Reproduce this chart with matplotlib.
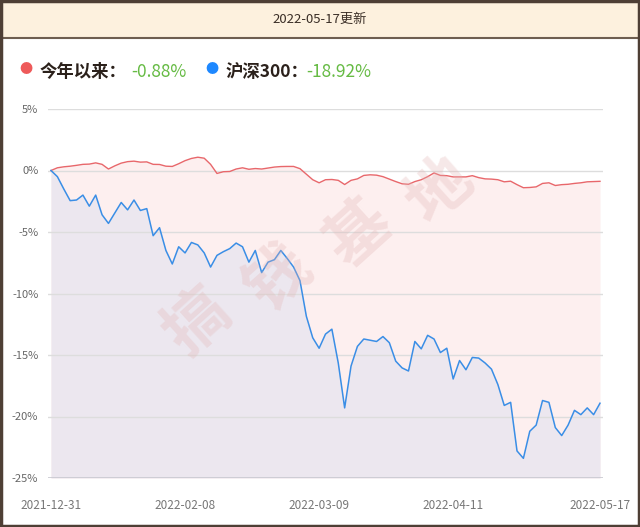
import matplotlib
matplotlib.use('Agg')
import matplotlib.pyplot as plt
from matplotlib.patches import Rectangle
from matplotlib.lines import Line2D

plt.rcParams['font.family'] = ['Noto Sans CJK SC', 'DejaVu Sans']

# data (cumulative return, %)
fund = [0, 0.22, 0.3, 0.35, 0.42, 0.5, 0.52, 0.62, 0.5, 0.12,
        0.38, 0.6, 0.72, 0.76, 0.68, 0.7, 0.5, 0.49, 0.35, 0.33,
        0.55, 0.8, 0.98, 1.08, 1.0, 0.5, -0.24, -0.1, -0.08, 0.12,
        0.22, 0.1, 0.16, 0.12, 0.2, 0.28, 0.32, 0.33, 0.33, 0.15,
        -0.3, -0.75, -1.0, -0.75, -0.73, -0.8, -1.14, -0.8, -0.68, -0.4,
        -0.35, -0.38, -0.5, -0.7, -0.9, -1.08, -1.12, -0.9, -0.75, -0.5,
        -0.2, -0.4, -0.42, -0.52, -0.52, -0.52, -0.42, -0.58, -0.68, -0.7,
        -0.75, -0.92, -0.87, -1.15, -1.4, -1.38, -1.33, -1.05, -1.0, -1.22,
        -1.15, -1.12, -1.05, -1.0, -0.92, -0.9, -0.88]
hs300 = [0, -0.5, -1.5, -2.45, -2.4, -2.0, -2.9, -2.0, -3.6, -4.3,
         -3.45, -2.6, -3.2, -2.4, -3.25, -3.1, -5.3, -4.65, -6.5, -7.6,
         -6.2, -6.7, -5.85, -6.05, -6.7, -7.85, -6.9, -6.6, -6.35, -5.9,
         -6.2, -7.45, -6.5, -8.3, -7.45, -7.25, -6.5, -7.15, -7.85, -8.95,
         -11.85, -13.6, -14.45, -13.3, -12.9, -15.65, -19.3, -15.9, -14.3, -13.7,
         -13.8, -13.9, -13.5, -14.0, -15.5, -16.05, -16.3, -13.9, -14.5, -13.4,
         -13.7, -14.8, -14.45, -16.95, -15.45, -16.2, -15.2, -15.25, -15.65, -16.15,
         -17.4, -19.1, -18.85, -22.8, -23.4, -21.2, -20.7, -18.7, -18.85, -20.9,
         -21.55, -20.7, -19.5, -19.85, -19.3, -19.85, -18.92]
tick_pos = [0, 21, 42, 63, 86]
tick_labels = ['2021-12-31', '2022-02-08', '2022-03-09', '2022-04-11', '2022-05-17']
yticks = [5, 0, -5, -10, -15, -20, -25]
x = list(range(len(fund)))

W, H = 640, 527
fig = plt.figure(figsize=(W / 100, H / 100), dpi=100)

def fx(px):
    return px / W

def fy(py):
    return 1 - py / H

# header band and frame
fig.patches.append(Rectangle((0, fy(38)), 1, 38 / H, transform=fig.transFigure,
                             facecolor='#fdf1de', edgecolor='none', zorder=0))
fig.add_artist(Line2D([0, 1], [fy(38), fy(38)], color='#6e5e50', lw=1.5))
fig.patches.append(Rectangle((0.001, 0.001), 0.998, 0.998, transform=fig.transFigure,
                             facecolor='none', edgecolor='#4e3f35', lw=2.5, zorder=10))
fig.text(0.5, fy(19), '2022-05-17更新', ha='center', va='center',
         fontsize=9.5, color='#3a2e26')

# legend row
fig.text(fx(26), fy(70), '●', color='#ee5a5a', fontsize=9.5, ha='center', va='center')
fig.text(fx(40), fy(72), '今年以来：', color='#2b211b', fontsize=12.5,
         fontweight='bold', ha='left', va='center')
fig.text(fx(131), fy(72), '-0.88%', color='#66bb44', fontsize=12.5, ha='left', va='center')
fig.text(fx(212), fy(70), '●', color='#1e88ff', fontsize=9.5, ha='center', va='center')
fig.text(fx(225), fy(72), '沪深300：', color='#2b211b', fontsize=12.5,
         fontweight='bold', ha='left', va='center')
fig.text(fx(306), fy(72), '-18.92%', color='#66bb44', fontsize=12.5, ha='left', va='center')

ax = fig.add_axes([fx(48), fy(478), (603 - 48) / W, (478 - 109) / H])
ax.set_xlim(-0.47, 86.47)
ax.set_ylim(-25, 5)

ax.fill_between(x, fund, -25, color='#fdefef', lw=0, zorder=1)
ax.fill_between(x, hs300, -25, color='#ece7ef', lw=0, zorder=2)
ax.plot(x, fund, color='#e8676b', lw=1.0, zorder=4)
ax.plot(x, hs300, color='#3a8ee6', lw=1.1, zorder=4)

for v in yticks[:-1]:
    ax.axhline(v, color='#dddddd', lw=1, zorder=3)
ax.axhline(-25, color='#c8c8d0', lw=1.2, zorder=3)

# watermark
wm_chars = '搞钱基地'
x0, y0, x1, y1 = 198, 322, 440, 190
for k, ch in enumerate(wm_chars):
    px = x0 + (x1 - x0) * k / 3
    py = y0 + (y1 - y0) * k / 3
    fig.text(fx(px), fy(py), ch, fontsize=46, color='#e2b4b4', alpha=0.3,
             rotation=42, ha='center', va='center', fontweight='bold', zorder=5)

for s in ax.spines.values():
    s.set_visible(False)
ax.set_yticks(yticks)
ax.set_yticklabels([f'{v}%' for v in yticks])
ax.set_xticks(tick_pos)
ax.set_xticklabels(tick_labels)
ax.tick_params(axis='y', length=0, pad=7, labelsize=8, labelcolor='#666666')
ax.tick_params(axis='x', length=0, pad=15, labelsize=8.5, labelcolor='#777777')
ax.patch.set_alpha(0)

fig.savefig('out.png', dpi=100)
